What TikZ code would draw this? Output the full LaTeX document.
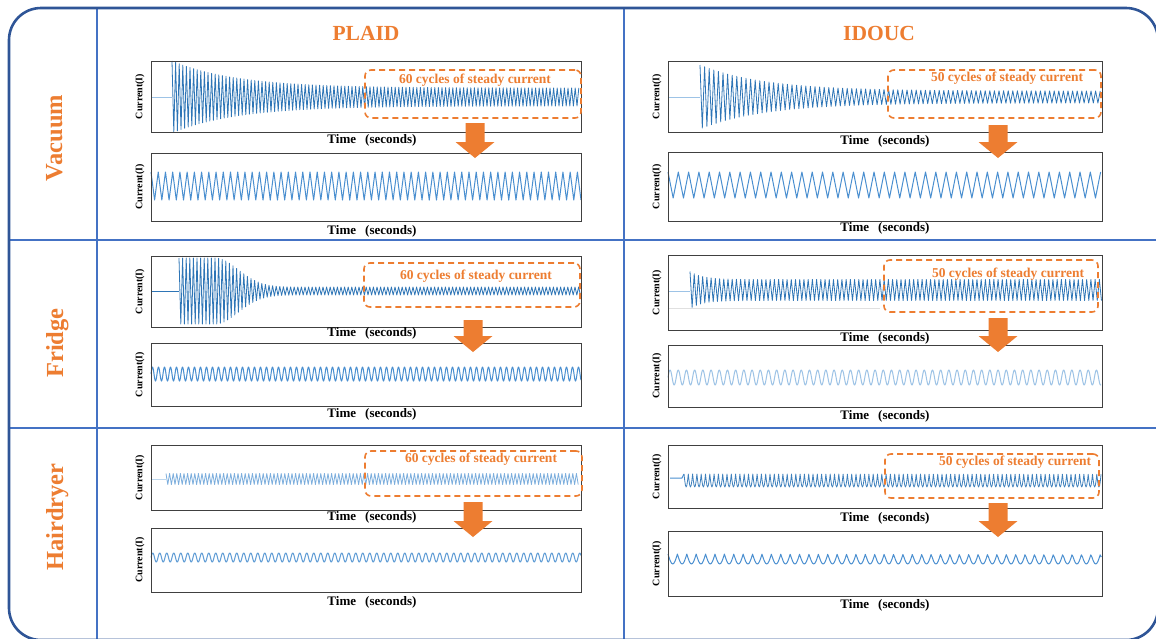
\documentclass[tikz,border=0pt]{standalone}
\usepackage{fontspec}
\setmainfont{Liberation Serif}
\usetikzlibrary{calc}

\definecolor{accent}{HTML}{ED7D31}
\definecolor{gridblue}{HTML}{4472C4}
\definecolor{frameblue}{HTML}{2F5597}
\definecolor{wdark}{HTML}{2E75B6}
\definecolor{wmid}{HTML}{4A8FD0}
\definecolor{wlight}{HTML}{9DC3E6}
\definecolor{wpale}{HTML}{BDD7EE}

\tikzset{
  pbox/.style={draw=black!75, line width=0.9pt, inner sep=0pt, outer sep=0pt},
  curlab/.style={rotate=90, font=\bfseries\fontsize{10}{12}\selectfont, inner sep=0pt},
  timelab/.style={font=\bfseries\fontsize{13}{15}\selectfont, inner sep=0pt},
  dbox/.style={draw=accent, dash pattern=on 6pt off 4pt, line width=1.6pt,
    rounded corners=6pt, inner sep=0pt},
  dlab/.style={text=accent, font=\bfseries\fontsize{13.5}{15}\selectfont, inner sep=0pt},
  colhead/.style={text=accent, font=\bfseries\fontsize{21.5}{24}\selectfont, inner sep=0pt},
  rowlab/.style={text=accent, rotate=90, anchor=base,
    font=\bfseries\fontsize{24.5}{27}\selectfont, inner sep=0pt},
  gridline/.style={draw=gridblue, line width=2.4pt},
  wave/.style={line width=1pt, line join=round},
  thinwave/.style={line width=0.8pt, line join=round},
}

% plot panel: name, x1, y1, x2, y2, time-label x, time-label y
\newcommand{\panel}[7]{%
  \node[pbox, minimum width={#4-#2}, minimum height={#5-#3}] (#1) at ({(#2+#4)/2},{(#3+#5)/2}) {};
  \node[curlab] (#1-y) at ([xshift=-11pt]#1.west) {Current(I)};
  \node[timelab] (#1-x) at (#6,#7) {Time\hspace{0.7em}(seconds)};
}
% dashed steady-state window: name, x1, y1, x2, y2, text x, text y, cycles
\newcommand{\steady}[8]{%
  \node[dbox, minimum width={#4-#2}, minimum height={#5-#3}] (#1) at ({(#2+#4)/2},{(#3+#5)/2}) {};
  \node[dlab] (#1-t) at (#6,#7) {#8 cycles of steady current};
}
% block arrow pointing down: name, x, top, tip
\newcommand{\dnarrow}[4]{%
  \coordinate (#1) at (#2,#4);
  \fill[accent] (#2-9.5,#3) -- (#2+9.5,#3) -- (#2+9.5,#4-16) -- (#2+19.5,#4-16)
    -- (#1) -- (#2-19.5,#4-16) -- (#2-9.5,#4-16) -- cycle;
}

\begin{document}
\begin{tikzpicture}[x=1pt, y=-1pt]
\useasboundingbox (0,0) rectangle (1156,638);
\fill[white] (0,0) rectangle (1156,638);

% table frame and rules
\draw[gridline] (97,8) -- (97,639);
\draw[gridline] (624,8) -- (624,639);
\draw[gridline] (9,240) -- (1158,240);
\draw[gridline] (9,428) -- (1158,428);
\draw[draw=frameblue, line width=2.6pt, rounded corners=32pt] (9,8) rectangle (1158,640);

% headers
\node[colhead] (hplaid) at (366,33) {PLAID};
\node[colhead] (hidouc) at (879,33) {IDOUC};
\node[rowlab] (rvac) at (62,138) {Vacuum};
\node[rowlab] (rfri) at (63,343) {Fridge};
\node[rowlab] (rhai) at (63,517) {Hairdryer};

% ---------- Vacuum ----------
\draw[wave, wlight] (151,97) -- (172,97);
\draw[thinwave, wdark] plot[domain=0:113, samples=227]
  ({172+3.6*\x},{97-(9+27*exp(-\x/18))*cos(360*mod(\x,1))});
\draw[wave, wmid] plot[domain=0:59.5, samples=120]
  ({151+7.227*\x},{186-14*cos(360*mod(\x,1))});
\panel{pvt}{151}{61}{581}{132}{372}{140}
\panel{pvb}{151}{153}{581}{221}{372}{231}

\draw[wave, wlight] (668,97) -- (700,97);
\draw[thinwave, wdark] plot[domain=0:87, samples=175]
  ({700+4.6*\x},{97-(6+26*exp(-\x/14))*cos(360*mod(\x,1))});
\draw[wave, wmid] plot[domain=0:42, samples=85]
  ({668+10.3*\x},{185-13*cos(360*mod(\x,1))});
\panel{ivt}{668}{61}{1102}{132}{885}{141}
\panel{ivb}{668}{152}{1102}{221}{885}{228}

% ---------- Fridge ----------
\draw[wave, wdark] (151,291) -- (179,291);
\draw[thinwave, wdark] plot[domain=0:111.5, samples=224]
  ({179+3.6*\x},{291-(4+29*exp(-min((max(\x-10,0)/9)^2,20)))*cos(360*mod(\x,1))});
\draw[wave, wmid] plot[domain=0:430, samples=861]
  ({151+\x},{374-7*sin(60*mod(\x,6))});
\panel{pft}{151}{256}{581}{327}{372}{333}
\panel{pfb}{151}{343}{581}{406}{372}{414}

\draw[line width=0.8pt, black!12] (668,308) -- (880,308);
\draw[wave, wlight] (668,291) -- (690,291);
\draw[thinwave, wdark] plot[domain=0:97.5, samples=196]
  ({690+4.22*\x},{290-(10.5+8*exp(-\x/3))*cos(360*mod(\x,1))});
\draw[wave, wlight] plot[domain=0:433, samples=867]
  ({668+\x},{377.5-7.5*sin(360*mod(\x,8.2)/8.2)});
\panel{ift}{668}{255}{1102}{330}{885}{338}
\panel{ifb}{668}{345}{1102}{407}{885}{416}

% ---------- Hairdryer ----------
\draw[wave, wpale] (151,479) -- (166,479);
\draw[thinwave, wlight!60!wmid] plot[domain=0:114.5, samples=230]
  ({166+3.6*\x},{479-5.5*cos(360*mod(\x,1))});
\draw[wave, wmid!75!wlight] plot[domain=0:430, samples=861]
  ({151+\x},{557.5-4.5*sin(360*mod(\x,7)/7)});
\panel{pht}{151}{445}{581}{510}{372}{517}
\panel{phb}{151}{528}{581}{592}{372}{602}

\draw[wave, wmid] (670,478) -- (682,478) -- (684,474);
\draw[thinwave, wdark!85!wlight] plot[domain=0:97, samples=583]
  ({684+4.3*\x},{474+13*abs(sin(180*mod(\x,1)))});
\draw[wave, wmid] plot[domain=0:46.1, samples=370]
  ({668+9.4*\x},{554+10*abs(sin(180*mod(\x,1)))});
\panel{iht}{668}{445}{1102}{508}{885}{518}
\panel{ihb}{668}{531}{1102}{596}{885}{605}

% steady-state windows
\steady{pvd}{365}{70}{581}{118}{475}{80}{60}
\steady{pfd}{364}{263}{580}{307}{476}{276}{60}
\steady{phd}{365}{451}{582}{496}{481}{459}{60}
\steady{ivd}{888}{70}{1101}{118}{1007}{78}{50}
\steady{ifd}{884}{260}{1098}{312}{1008}{274}{50}
\steady{ihd}{885}{454}{1099}{498}{1015}{462}{50}

% extraction arrows
\dnarrow{pva}{475}{123}{158}
\dnarrow{pfa}{473}{320}{352}
\dnarrow{pha}{473}{502}{537}
\dnarrow{iva}{998}{125}{158}
\dnarrow{ifa}{998}{318}{352}
\dnarrow{iha}{998}{503}{537}
\end{tikzpicture}
\end{document}
